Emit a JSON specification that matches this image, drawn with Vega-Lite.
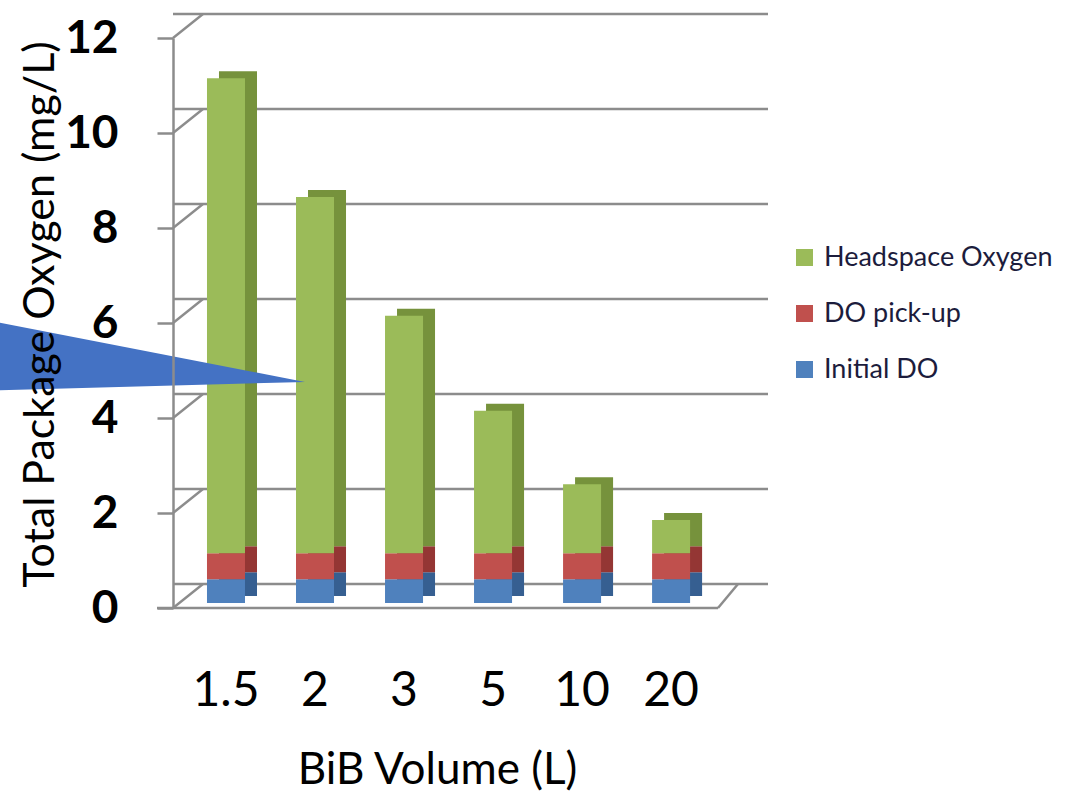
{
  "$schema": "https://vega.github.io/schema/vega-lite/v6.json",
  "width": 565,
  "height": 570,
  "autosize": "none",
  "padding": {"left": 173, "top": 38, "right": 331, "bottom": 190},
  "background": "white",
  "config": {"view": {"stroke": null}, "font": "Lato"},
  "datasets": {
    "bars": [
      {"vol": "1.5", "series": "Initial DO", "v": 0.5, "k": 1},
      {"vol": "1.5", "series": "DO pick-up", "v": 0.55, "k": 2},
      {"vol": "1.5", "series": "Headspace Oxygen", "v": 10.0, "k": 3},
      {"vol": "2", "series": "Initial DO", "v": 0.5, "k": 1},
      {"vol": "2", "series": "DO pick-up", "v": 0.55, "k": 2},
      {"vol": "2", "series": "Headspace Oxygen", "v": 7.5, "k": 3},
      {"vol": "3", "series": "Initial DO", "v": 0.5, "k": 1},
      {"vol": "3", "series": "DO pick-up", "v": 0.55, "k": 2},
      {"vol": "3", "series": "Headspace Oxygen", "v": 5.0, "k": 3},
      {"vol": "5", "series": "Initial DO", "v": 0.5, "k": 1},
      {"vol": "5", "series": "DO pick-up", "v": 0.55, "k": 2},
      {"vol": "5", "series": "Headspace Oxygen", "v": 3.0, "k": 3},
      {"vol": "10", "series": "Initial DO", "v": 0.5, "k": 1},
      {"vol": "10", "series": "DO pick-up", "v": 0.55, "k": 2},
      {"vol": "10", "series": "Headspace Oxygen", "v": 1.45, "k": 3},
      {"vol": "20", "series": "Initial DO", "v": 0.5, "k": 1},
      {"vol": "20", "series": "DO pick-up", "v": 0.55, "k": 2},
      {"vol": "20", "series": "Headspace Oxygen", "v": 0.7, "k": 3}
    ],
    "ticks": [{"t": 0}, {"t": 2}, {"t": 4}, {"t": 6}, {"t": 8}, {"t": 10}, {"t": 12}],
    "one": [{}]
  },
  "resolve": {"scale": {"color": "independent"}},
  "layer": [
    {
      "data": {"name": "ticks"},
      "mark": {"type": "rule", "color": "#8c8c8c", "strokeWidth": 2.5, "xOffset": 30, "yOffset": -24},
      "encoding": {
        "y": {"field": "t", "type": "quantitative", "scale": {"domain": [0, 12], "nice": false},
          "axis": {"title": "Total Package Oxygen (mg/L)", "values": [0, 2, 4, 6, 8, 10, 12], "grid": false, "zindex": 1, "domainColor": "#8c8c8c", "domainWidth": 2.5, "tickColor": "#8c8c8c", "tickWidth": 2.5, "tickSize": 16, "labelFont": "Lato", "labelFontSize": 46, "labelFontWeight": "bold", "labelColor": "#000000", "labelPadding": 39, "titleFont": "Lato", "titleFontSize": 43, "titleFontWeight": "normal", "titleColor": "#000000", "titleX": -120, "titleY": 276, "titleAngle": -90, "titleAlign": "center", "titleBaseline": "alphabetic"}}
      }
    },
    {
      "data": {"name": "ticks"},
      "mark": {"type": "rule", "color": "#8c8c8c", "strokeWidth": 2.5, "y2Offset": -24},
      "encoding": {
        "x": {"value": 0},
        "x2": {"value": 30},
        "y": {"field": "t", "type": "quantitative", "scale": {"domain": [0, 12], "nice": false}},
        "y2": {"field": "t"}
      }
    },
    {
      "data": {"name": "one"},
      "mark": {"type": "rule", "color": "#8c8c8c", "strokeWidth": 2.5},
      "encoding": {
        "x": {"value": -16},
        "x2": {"value": 545},
        "y": {"datum": 0, "type": "quantitative", "scale": {"domain": [0, 12], "nice": false}}
      }
    },
    {
      "data": {"name": "one"},
      "mark": {"type": "rule", "color": "#8c8c8c", "strokeWidth": 2.5, "y2Offset": -24},
      "encoding": {
        "x": {"value": 545},
        "x2": {"value": 565},
        "y": {"datum": 0, "type": "quantitative", "scale": {"domain": [0, 12], "nice": false}},
        "y2": {"datum": 0}
      }
    },
    {
      "data": {"name": "bars"},
      "mark": {"type": "bar", "xOffset": 12, "yOffset": -12, "y2Offset": -12},
      "encoding": {
        "x": {"field": "vol", "type": "nominal", "scale": {"domain": ["1.5", "2", "3", "5", "10", "20"], "paddingInner": 0.573, "paddingOuter": 0.46, "align": 0.415},
          "axis": {"title": "BiB Volume (L)", "labelAngle": 0, "domain": false, "ticks": false, "tickSize": 0, "labelFont": "Lato", "labelFontSize": 48, "labelColor": "#000000", "labelBaseline": "alphabetic", "labelPadding": 97, "titleFont": "Lato", "titleFontSize": 44, "titleFontWeight": "normal", "titleColor": "#000000", "titleX": 264, "titleY": 175, "titleAlign": "center", "titleBaseline": "alphabetic"}},
        "y": {"field": "v", "type": "quantitative", "stack": "zero", "scale": {"domain": [0, 12], "nice": false}},
        "order": {"field": "k", "type": "quantitative"},
        "color": {"field": "series", "type": "nominal", "scale": {"domain": ["Headspace Oxygen", "DO pick-up", "Initial DO"], "range": ["#76923c", "#943634", "#365f91"]}, "legend": null}
      }
    },
    {
      "data": {"name": "bars"},
      "mark": {"type": "bar", "yOffset": -5, "y2Offset": -5},
      "encoding": {
        "x": {"field": "vol", "type": "nominal", "scale": {"domain": ["1.5", "2", "3", "5", "10", "20"], "paddingInner": 0.573, "paddingOuter": 0.46, "align": 0.415}},
        "y": {"field": "v", "type": "quantitative", "stack": "zero", "scale": {"domain": [0, 12], "nice": false}},
        "order": {"field": "k", "type": "quantitative"},
        "color": {"field": "series", "type": "nominal", "scale": {"domain": ["Headspace Oxygen", "DO pick-up", "Initial DO"], "range": ["#9bbb59", "#c0504d", "#4f81bd"]},
          "legend": {"title": null, "orient": "none", "legendX": 618, "legendY": 206, "symbolType": "square", "symbolSize": 289, "symbolStrokeWidth": 0, "symbolOpacity": 1, "labelFont": "Lato", "labelFontSize": 27, "labelColor": "#1c1c3c", "labelOffset": 6, "labelLimit": 400, "rowPadding": 28}}
      }
    },
    {
      "data": {"name": "one"},
      "mark": {"type": "point", "shape": "M 0 0 L -2 -0.388 L -2 0.055 Z", "size": 105625, "filled": true, "fill": "#4472c4", "opacity": 1, "strokeWidth": 0, "xOffset": -10},
      "encoding": {
        "x": {"datum": "2", "type": "nominal"},
        "y": {"datum": 4.76, "type": "quantitative", "scale": {"domain": [0, 12], "nice": false}}
      }
    }
  ]
}
